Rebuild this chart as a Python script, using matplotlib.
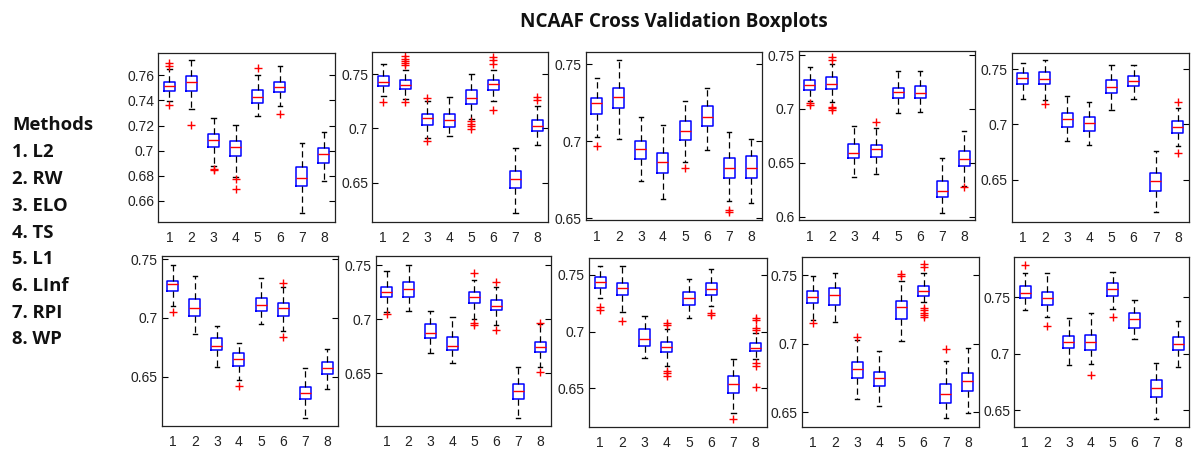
import matplotlib
matplotlib.use("Agg")
import matplotlib.pyplot as plt
from matplotlib.ticker import FixedLocator, FuncFormatter

W, H = 1191, 455

title = "NCAAF Cross Validation Boxplots"
methods = ["L2", "RW", "ELO", "TS", "L1", "LInf", "RPI", "WP"]
positions = [1, 2, 3, 4, 5, 6, 7, 8]

# Per panel (10 panels, row-major), per method: lower whisker, Q1, median, Q3, upper whisker
whislo = [
    [0.7398, 0.7334, 0.6879, 0.6794, 0.7273, 0.7358, 0.6507, 0.6762],
    [0.7294, 0.7268, 0.6909, 0.6925, 0.7088, 0.7248, 0.6223, 0.6848],
    [0.7030, 0.7015, 0.6745, 0.6626, 0.6868, 0.6944, 0.6613, 0.6602],
    [0.7073, 0.7067, 0.6365, 0.6396, 0.6959, 0.6974, 0.6037, 0.6285],
    [0.7229, 0.7223, 0.6855, 0.6816, 0.7133, 0.7232, 0.6205, 0.6807],
    [0.7102, 0.6864, 0.6580, 0.6472, 0.6949, 0.6892, 0.6145, 0.6392],
    [0.7063, 0.7078, 0.6685, 0.6598, 0.7000, 0.6946, 0.6085, 0.6562],
    [0.7294, 0.7176, 0.6765, 0.6697, 0.7124, 0.7226, 0.6285, 0.6759],
    [0.7172, 0.7160, 0.6595, 0.6549, 0.7022, 0.7306, 0.6456, 0.6498],
    [0.7388, 0.7328, 0.6899, 0.6908, 0.7393, 0.7130, 0.6420, 0.6879],
]
q1 = [
    [0.7472, 0.7472, 0.7028, 0.6959, 0.7379, 0.7464, 0.6720, 0.6900],
    [0.7386, 0.7365, 0.7032, 0.7011, 0.7226, 0.7355, 0.6448, 0.6971],
    [0.7177, 0.7214, 0.6883, 0.6797, 0.7009, 0.7100, 0.6760, 0.6760],
    [0.7175, 0.7185, 0.6541, 0.6550, 0.7098, 0.7098, 0.6185, 0.6473],
    [0.7367, 0.7364, 0.6976, 0.6943, 0.7289, 0.7352, 0.6395, 0.6922],
    [0.7230, 0.7017, 0.6727, 0.6591, 0.7060, 0.7017, 0.6307, 0.6520],
    [0.7202, 0.7208, 0.6823, 0.6715, 0.7152, 0.7085, 0.6263, 0.6694],
    [0.7388, 0.7324, 0.6876, 0.6818, 0.7235, 0.7324, 0.6462, 0.6829],
    [0.7299, 0.7282, 0.6752, 0.6692, 0.7180, 0.7350, 0.6566, 0.6658],
    [0.7491, 0.7432, 0.7047, 0.7033, 0.7515, 0.7231, 0.6612, 0.7033],
]
med = [
    [0.7512, 0.7547, 0.7089, 0.7028, 0.7427, 0.7504, 0.6786, 0.6975],
    [0.7429, 0.7402, 0.7091, 0.7078, 0.7278, 0.7411, 0.6531, 0.7023],
    [0.7247, 0.7286, 0.6948, 0.6868, 0.7067, 0.7156, 0.6825, 0.6829],
    [0.7222, 0.7231, 0.6594, 0.6625, 0.7160, 0.7150, 0.6241, 0.6535],
    [0.7425, 0.7413, 0.7048, 0.7018, 0.7343, 0.7395, 0.6485, 0.6976],
    [0.7287, 0.7082, 0.6761, 0.6648, 0.7111, 0.7082, 0.6364, 0.6571],
    [0.7248, 0.7278, 0.6875, 0.6752, 0.7202, 0.7125, 0.6340, 0.6746],
    [0.7435, 0.7388, 0.6932, 0.6868, 0.7294, 0.7376, 0.6538, 0.6859],
    [0.7337, 0.7354, 0.6816, 0.6748, 0.7269, 0.7386, 0.6633, 0.6731],
    [0.7541, 0.7491, 0.7101, 0.7101, 0.7574, 0.7308, 0.6692, 0.7083],
]
q3 = [
    [0.7547, 0.7592, 0.7135, 0.7079, 0.7486, 0.7547, 0.6874, 0.7025],
    [0.7478, 0.7442, 0.7128, 0.7128, 0.7349, 0.7448, 0.6611, 0.7078],
    [0.7279, 0.7348, 0.7004, 0.6926, 0.7128, 0.7229, 0.6890, 0.6905],
    [0.7268, 0.7299, 0.6671, 0.6662, 0.7197, 0.7215, 0.6331, 0.6612],
    [0.7464, 0.7473, 0.7102, 0.7072, 0.7404, 0.7443, 0.6560, 0.7033],
    [0.7318, 0.7162, 0.6827, 0.6699, 0.7173, 0.7131, 0.6415, 0.6628],
    [0.7300, 0.7346, 0.6952, 0.6832, 0.7248, 0.7177, 0.6398, 0.6792],
    [0.7485, 0.7432, 0.7021, 0.6912, 0.7353, 0.7426, 0.6609, 0.6903],
    [0.7386, 0.7403, 0.6869, 0.6796, 0.7313, 0.7422, 0.6706, 0.6789],
    [0.7604, 0.7544, 0.7157, 0.7166, 0.7630, 0.7358, 0.6766, 0.7145],
]
whishi = [
    [0.7651, 0.7725, 0.7262, 0.7204, 0.7603, 0.7677, 0.7060, 0.7145],
    [0.7592, 0.7534, 0.7248, 0.7288, 0.7500, 0.7534, 0.6823, 0.7208],
    [0.7409, 0.7528, 0.7154, 0.7106, 0.7258, 0.7348, 0.7063, 0.7015],
    [0.7392, 0.7416, 0.6841, 0.6820, 0.7355, 0.7355, 0.6547, 0.6795],
    [0.7554, 0.7584, 0.7259, 0.7202, 0.7539, 0.7539, 0.6756, 0.7148],
    [0.7452, 0.7358, 0.6935, 0.6790, 0.7338, 0.7267, 0.6577, 0.6736],
    [0.7445, 0.7500, 0.7078, 0.7023, 0.7362, 0.7300, 0.6555, 0.6952],
    [0.7582, 0.7579, 0.7141, 0.7021, 0.7462, 0.7553, 0.6756, 0.6985],
    [0.7495, 0.7517, 0.7027, 0.6947, 0.7459, 0.7512, 0.6874, 0.6966],
    [0.7719, 0.7719, 0.7320, 0.7358, 0.7728, 0.7476, 0.6920, 0.7290],
]
fliers = [
    [[0.7698, 0.7677, 0.7360], [0.7206], [0.6858, 0.6845], [0.6773, 0.6693], [0.7659], [0.7294], [], []],
    [[0.7238], [0.7663, 0.7640, 0.7620, 0.7600, 0.7580, 0.7238], [0.7278, 0.6885], [],
     [0.7063, 0.7042, 0.7017, 0.6992], [0.7657, 0.7626, 0.7595, 0.7171], [], [0.7285, 0.7263]],
    [[0.6970], [], [], [], [0.6825], [], [0.6554, 0.6539], []],
    [[0.7051, 0.7036], [0.7478, 0.7454, 0.7021, 0.7005, 0.6990], [], [0.6881], [], [], [], [0.6272]],
    [[], [0.7184], [], [], [], [], [], [0.7202, 0.6741]],
    [[0.7048], [], [], [0.6420], [], [0.7301, 0.6835], [], []],
    [[0.7048], [], [], [], [0.7423, 0.6962, 0.6946], [0.7346, 0.6900], [], [0.6968, 0.6515]],
    [[0.7221, 0.7191], [0.7094], [], [0.7074, 0.7059, 0.6653, 0.6632, 0.6612], [],
     [0.7168, 0.7147], [0.6229], [0.7124, 0.7103, 0.7029, 0.7015, 0.6721, 0.6700, 0.6515]],
    [[0.7153], [], [0.7046], [], [0.7505, 0.7493],
     [0.7580, 0.7561, 0.7262, 0.7245, 0.7226, 0.7209, 0.7192], [0.6961], []],
    [[0.7787], [0.7249], [], [0.6811], [0.7322], [], [], []],
]
yticks = [
    [0.66, 0.68, 0.70, 0.72, 0.74, 0.76],
    [0.65, 0.70, 0.75],
    [0.65, 0.70, 0.75],
    [0.60, 0.65, 0.70, 0.75],
    [0.65, 0.70, 0.75],
    [0.65, 0.70, 0.75],
    [0.65, 0.70, 0.75],
    [0.65, 0.70, 0.75],
    [0.65, 0.70, 0.75],
    [0.65, 0.70, 0.75],
]

# layout (pixel boxes: left, right, top, bottom) and y-limits
boxes_px = [
    (158.3, 335.0, 52.7, 221.7), (372.3, 548.3, 52.3, 221.7), (585.7, 762.3, 51.7, 220.0),
    (799.0, 975.0, 50.7, 220.0), (1011.7, 1189.0, 52.7, 221.7),
    (161.7, 338.3, 256.0, 425.7), (375.7, 551.0, 255.7, 425.7), (589.0, 766.7, 258.3, 426.7),
    (801.7, 979.0, 257.3, 426.7), (1014.3, 1189.0, 257.3, 426.7),
]
ylims = [
    (0.6435, 0.778), (0.614, 0.770), (0.649, 0.758), (0.597, 0.754), (0.612, 0.765),
    (0.6082, 0.7528), (0.6017, 0.7586), (0.6162, 0.7647), (0.6396, 0.7629), (0.6352, 0.7855),
]

fig = plt.figure(figsize=(W / 100, H / 100), dpi=100)
fig.patch.set_facecolor("white")

fmt = FuncFormatter(lambda v, p: ("%.2f" % v).rstrip("0").rstrip(".") if v != 0 else "0")

for k in range(10):
    l, r, t, b = boxes_px[k]
    ax = fig.add_axes([l / W, 1 - b / H, (r - l) / W, (b - t) / H])
    stats = []
    for i in range(8):
        stats.append(dict(whislo=whislo[k][i], q1=q1[k][i], med=med[k][i], q3=q3[k][i],
                          whishi=whishi[k][i], fliers=fliers[k][i]))
    ax.bxp(stats, positions=positions, widths=0.5, capwidths=0.2, showfliers=True,
           boxprops=dict(color="#0000ff", linewidth=1.1),
           medianprops=dict(color="#ff0000", linewidth=1.0),
           whiskerprops=dict(color="black", linewidth=0.9, linestyle=(0, (5, 3))),
           capprops=dict(color="black", linewidth=1.0),
           flierprops=dict(marker="+", markeredgecolor="#ff0000", markersize=6,
                           markeredgewidth=1.0, linestyle="none"))
    ax.set_xlim(0.5, 8.5)
    ax.set_ylim(*ylims[k])
    ax.set_xticks(positions)
    ax.set_xticklabels([str(p) for p in positions])
    ax.yaxis.set_major_locator(FixedLocator(yticks[k]))
    ax.yaxis.set_major_formatter(fmt)
    ax.tick_params(axis="y", direction="in", length=4, width=0.8, left=True, right=True,
                   labelsize=10, labelcolor="#222222", pad=3)
    ax.tick_params(axis="x", direction="in", length=0, labelsize=10, labelcolor="#222222", pad=7)
    for s in ax.spines.values():
        s.set_color("#222222")
        s.set_linewidth(0.9)
    for lab in ax.get_xticklabels() + ax.get_yticklabels():
        lab.set_fontfamily("Liberation Sans")

fig.text(673.5 / W, 1 - 22 / H, title, ha="center", va="center", fontsize=13.6,
         fontweight="bold", family="Open Sans", color="#111111")

fig.text(12 / W, 1 - 125.5 / H, "Methods", ha="left", va="center", fontsize=13.3,
         fontweight="bold", family="Open Sans", color="#111111")
for i, m in enumerate(methods):
    fig.text(12 / W, 1 - (152.5 + 26.7 * i) / H, "%d. %s" % (i + 1, m), ha="left",
             va="center", fontsize=13.3, fontweight="bold", family="Open Sans", color="#111111")

fig.savefig("out.png", dpi=100, facecolor="white")
